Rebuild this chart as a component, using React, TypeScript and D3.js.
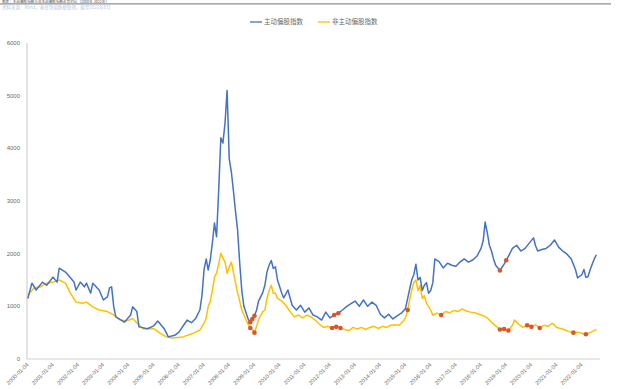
import React from "react";
import * as d3 from "d3";

// Index levels, sampled monthly ("YYYY-MM", level)
const ACTIVE_SERIES: [string, number][] = [
  ["2000-01", 1150], ["2000-03", 1440], ["2000-05", 1310], ["2000-08", 1460], ["2000-10", 1400],
  ["2001-01", 1555], ["2001-03", 1460], ["2001-04", 1725], ["2001-07", 1650], ["2001-09", 1555],
  ["2001-11", 1460], ["2001-12", 1310], ["2002-02", 1460], ["2002-04", 1370], ["2002-05", 1440],
  ["2002-07", 1250], ["2002-08", 1440], ["2002-11", 1310], ["2003-01", 1120], ["2003-03", 1180],
  ["2003-04", 1350], ["2003-05", 1370], ["2003-06", 990], ["2003-07", 800], ["2003-11", 700],
  ["2004-02", 835], ["2004-03", 990], ["2004-05", 900], ["2004-06", 610], ["2004-10", 575],
  ["2005-01", 630], ["2005-03", 720], ["2005-06", 575], ["2005-08", 420], ["2005-11", 450],
  ["2006-01", 510], ["2006-05", 740], ["2006-07", 690], ["2006-09", 770], ["2006-11", 930],
  ["2006-12", 1200], ["2007-01", 1700], ["2007-02", 1900], ["2007-03", 1690], ["2007-04", 1880],
  ["2007-05", 2200], ["2007-06", 2580], ["2007-07", 2320], ["2007-08", 3200], ["2007-09", 4200],
  ["2007-10", 4100], ["2007-11", 4480], ["2007-12", 5100], ["2008-01", 3800], ["2008-02", 3550],
  ["2008-03", 3200], ["2008-04", 2800], ["2008-05", 2450], ["2008-06", 1820], ["2008-07", 1300],
  ["2008-08", 1000], ["2008-09", 880], ["2008-10", 760], ["2008-11", 700], ["2008-12", 760],
  ["2009-01", 820], ["2009-02", 930], ["2009-03", 1100], ["2009-04", 1180], ["2009-05", 1260],
  ["2009-06", 1400], ["2009-07", 1650], ["2009-08", 1780], ["2009-09", 1870], ["2009-10", 1720],
  ["2009-11", 1750], ["2009-12", 1500], ["2010-02", 1250], ["2010-03", 1160], ["2010-05", 1310],
  ["2010-07", 1020], ["2010-09", 930], ["2010-11", 1020], ["2011-01", 890], ["2011-03", 970],
  ["2011-05", 835], ["2011-07", 800], ["2011-09", 740], ["2011-11", 890], ["2012-01", 780],
  ["2012-03", 835], ["2012-05", 870], ["2012-07", 930], ["2012-09", 1000], ["2012-11", 1050],
  ["2013-01", 1100], ["2013-03", 1000], ["2013-05", 1120], ["2013-07", 1000], ["2013-09", 1080],
  ["2013-11", 1020], ["2014-01", 850], ["2014-03", 780], ["2014-05", 850], ["2014-07", 760],
  ["2014-09", 820], ["2014-11", 870], ["2015-01", 960], ["2015-02", 1150], ["2015-03", 1320],
  ["2015-04", 1500], ["2015-05", 1600], ["2015-06", 1800], ["2015-07", 1500], ["2015-08", 1550],
  ["2015-09", 1300], ["2015-10", 1400], ["2015-11", 1450], ["2015-12", 1250], ["2016-01", 1300],
  ["2016-02", 1450], ["2016-03", 1900], ["2016-05", 1850], ["2016-07", 1730], ["2016-09", 1820],
  ["2016-11", 1780], ["2017-01", 1760], ["2017-03", 1840], ["2017-05", 1900], ["2017-07", 1840],
  ["2017-09", 1880], ["2017-11", 1950], ["2018-01", 2100], ["2018-02", 2250], ["2018-03", 2600],
  ["2018-04", 2400], ["2018-05", 2160], ["2018-06", 2050], ["2018-07", 1900], ["2018-08", 1780],
  ["2018-10", 1680], ["2018-12", 1800], ["2019-02", 1950], ["2019-04", 2100], ["2019-06", 2160],
  ["2019-08", 2050], ["2019-10", 2100], ["2019-12", 2200], ["2020-02", 2300], ["2020-03", 2150],
  ["2020-04", 2050], ["2020-06", 2080], ["2020-08", 2100], ["2020-10", 2160], ["2020-12", 2260],
  ["2021-02", 2120], ["2021-04", 2050], ["2021-06", 1990], ["2021-08", 1900], ["2021-10", 1700],
  ["2021-11", 1540], ["2022-01", 1600], ["2022-02", 1700], ["2022-03", 1550], ["2022-04", 1560],
  ["2022-05", 1690], ["2022-06", 1800], ["2022-07", 1900], ["2022-08", 1980],
];

const PASSIVE_SERIES: [string, number][] = [
  ["2000-01", 1215], ["2000-04", 1350], ["2000-07", 1370], ["2000-10", 1440], ["2001-01", 1460],
  ["2001-04", 1500], ["2001-07", 1440], ["2001-09", 1270], ["2001-12", 1080], ["2002-03", 1060],
  ["2002-05", 1080], ["2002-08", 990], ["2002-11", 930], ["2003-03", 900], ["2003-06", 835],
  ["2003-09", 740], ["2003-12", 720], ["2004-03", 770], ["2004-06", 645], ["2004-08", 575],
  ["2005-01", 575], ["2005-04", 490], ["2005-07", 420], ["2005-10", 400], ["2006-03", 420],
  ["2006-08", 490], ["2006-11", 550], ["2007-01", 680], ["2007-02", 780], ["2007-03", 990],
  ["2007-04", 1100], ["2007-05", 1300], ["2007-06", 1550], ["2007-07", 1630], ["2007-08", 1800],
  ["2007-09", 2010], ["2007-10", 1920], ["2007-11", 1840], ["2007-12", 1630], ["2008-01", 1750],
  ["2008-02", 1840], ["2008-03", 1650], ["2008-04", 1450], ["2008-05", 1250], ["2008-06", 1100],
  ["2008-07", 930], ["2008-08", 840], ["2008-09", 740], ["2008-10", 660], ["2008-11", 590],
  ["2008-12", 560], ["2009-01", 500], ["2009-02", 620], ["2009-03", 740], ["2009-04", 830],
  ["2009-05", 900], ["2009-06", 930], ["2009-07", 1150], ["2009-08", 1300], ["2009-09", 1400],
  ["2009-10", 1250], ["2009-11", 1250], ["2009-12", 1150], ["2010-02", 1100], ["2010-04", 1020],
  ["2010-06", 900], ["2010-08", 800], ["2010-10", 835], ["2010-12", 780], ["2011-02", 835],
  ["2011-04", 800], ["2011-06", 740], ["2011-08", 660], ["2011-10", 600], ["2011-12", 620],
  ["2012-02", 590], ["2012-04", 610], ["2012-06", 590], ["2012-08", 560], ["2012-10", 540],
  ["2012-12", 600], ["2013-02", 570], ["2013-04", 600], ["2013-06", 560], ["2013-08", 600],
  ["2013-10", 620], ["2013-12", 580], ["2014-02", 620], ["2014-04", 600], ["2014-06", 640],
  ["2014-08", 650], ["2014-10", 640], ["2014-12", 720], ["2015-01", 780], ["2015-02", 930],
  ["2015-03", 1120], ["2015-04", 1310], ["2015-05", 1450], ["2015-06", 1500], ["2015-07", 1300],
  ["2015-08", 1400], ["2015-09", 1150], ["2015-10", 1200], ["2015-11", 1060], ["2015-12", 1000],
  ["2016-01", 930], ["2016-02", 830], ["2016-04", 870], ["2016-06", 835], ["2016-08", 900],
  ["2016-10", 880], ["2016-12", 920], ["2017-02", 900], ["2017-04", 950], ["2017-06", 910],
  ["2017-08", 890], ["2017-10", 880], ["2017-12", 850], ["2018-02", 820], ["2018-04", 780],
  ["2018-06", 700], ["2018-08", 630], ["2018-10", 560], ["2018-12", 570], ["2019-02", 540],
  ["2019-04", 640], ["2019-05", 740], ["2019-07", 660], ["2019-09", 600], ["2019-11", 640],
  ["2020-01", 610], ["2020-03", 650], ["2020-05", 590], ["2020-07", 640], ["2020-09", 620],
  ["2020-11", 680], ["2021-01", 600], ["2021-03", 580], ["2021-05", 550], ["2021-07", 520],
  ["2021-09", 500], ["2021-11", 510], ["2022-01", 490], ["2022-03", 470], ["2022-05", 500],
  ["2022-07", 540], ["2022-08", 560],
];

// Highlighted observation dates on each line
const ACTIVE_MARKS = ["2008-11", "2008-12", "2009-01", "2012-03", "2012-05", "2018-10", "2019-01"];
const PASSIVE_MARKS = [
  "2008-11", "2009-01", "2012-02", "2012-04", "2012-06", "2015-02", "2016-06",
  "2018-10", "2018-12", "2019-02", "2019-11", "2020-01", "2020-05", "2021-09", "2022-03",
];

const Y_TICKS = [0, 1000, 2000, 3000, 4000, 5000, 6000];
const X_TICK_YEARS = d3.range(2000, 2023);
const LEGEND_LABELS = ["主动偏股指数", "非主动偏股指数"];
const TITLE_TEXT = "图表：主动偏股指数与非主动偏股指数走势对比（2000年-2022年）";
const SUBTITLE_TEXT = "资料来源：Wind，基金净值数据整理，截至2022年8月";

const W = 628;
const H = 389;
const BLUE = "#4472C4";
const GOLD = "#FFC000";
const MARK = "#D9562A";
const AXIS = "#D0D0D0";
const LABEL = "#6B6B6B";
const NUM_FONT = "'Liberation Sans', Arial, sans-serif";
const CJK_FONT = "'Noto Sans CJK SC', sans-serif";

const parseMonth = d3.timeParse("%Y-%m");

type Pt = [Date, number];

function toPoints(series: [string, number][]): Pt[] {
  return series.map(([d, v]) => [parseMonth(d) as Date, v]);
}

function valueAt(points: Pt[], date: Date): number {
  const i = d3.bisector((p: Pt) => p[0]).left(points, date);
  if (i <= 0) return points[0][1];
  if (i >= points.length) return points[points.length - 1][1];
  const [d0, v0] = points[i - 1];
  const [d1, v1] = points[i];
  const t = (date.getTime() - d0.getTime()) / (d1.getTime() - d0.getTime());
  return v0 + (v1 - v0) * t;
}

export default function App() {
  const x = d3
    .scaleTime()
    .domain([new Date(2000, 0, 4), new Date(2022, 0, 4)])
    .range([28, 582]);
  const y = d3.scaleLinear().domain([0, 6000]).range([359, 43]);

  const line = d3
    .line<Pt>()
    .x((d) => x(d[0]))
    .y((d) => y(d[1]));

  const active = toPoints(ACTIVE_SERIES);
  const passive = toPoints(PASSIVE_SERIES);

  const marks = (points: Pt[], dates: string[]) =>
    dates.map((s) => {
      const d = parseMonth(s) as Date;
      return { key: s, cx: x(d), cy: y(valueAt(points, d)) };
    });

  const fmt = d3.timeFormat("%Y-%m-%d");
  const xTicks = X_TICK_YEARS.map((yr) => new Date(yr, 0, 4));
  const [x0, x1] = [27, 600];

  return (
    <svg
      width={W}
      height={H}
      viewBox={`0 0 ${W} ${H}`}
      style={{ position: "absolute", left: 0, top: 0, background: "#fff" }}
    >
      <rect x={0} y={0} width={W} height={H} fill="#fff" />

      {/* heading row above the rule */}
      <text x={2} y={3} fontFamily={CJK_FONT} fontSize={3.6} fill="#555">
        {TITLE_TEXT}
      </text>
      <line x1={0} x2={611} y1={3.8} y2={3.8} stroke="#8a8f99" strokeWidth={1.2} />
      <text x={2} y={8.5} fontFamily={CJK_FONT} fontSize={4.5} fill="#9db3d6" opacity={0.7}>
        {SUBTITLE_TEXT}
      </text>

      {/* legend */}
      <g fontFamily={CJK_FONT} fontSize={6.5} fill={LABEL}>
        <line x1={250} x2={262} y1={22} y2={22} stroke={BLUE} strokeWidth={1.3} />
        <text x={264} y={24.3}>{LEGEND_LABELS[0]}</text>
        <line x1={318} x2={330} y1={22} y2={22} stroke={GOLD} strokeWidth={1.3} />
        <text x={332} y={24.3}>{LEGEND_LABELS[1]}</text>
      </g>

      {/* axes */}
      <line x1={x0} x2={x0} y1={y(6000)} y2={y(0)} stroke={AXIS} strokeWidth={1.2} />
      <line x1={x0} x2={x1} y1={y(0)} y2={y(0)} stroke={AXIS} strokeWidth={1.2} />

      <g fontFamily={NUM_FONT} fontSize={6} fill={LABEL} textAnchor="end">
        {Y_TICKS.map((t) => (
          <text key={t} x={20} y={y(t) + 2}>
            {t}
          </text>
        ))}
      </g>

      <g fontFamily={NUM_FONT} fontSize={5.6} fill={LABEL} textAnchor="end">
        {xTicks.map((d) => {
          const tx = x(d);
          return (
            <text key={d.getFullYear()} transform={`translate(${tx + 1},${365}) rotate(-45)`}>
              {fmt(d)}
            </text>
          );
        })}
      </g>

      {/* series */}
      <path d={line(passive) ?? ""} fill="none" stroke={GOLD} strokeWidth={1.5} strokeLinejoin="round" />
      <path d={line(active) ?? ""} fill="none" stroke={BLUE} strokeWidth={1.5} strokeLinejoin="round" />

      {marks(active, ACTIVE_MARKS).map((m) => (
        <circle key={"a" + m.key} cx={m.cx} cy={m.cy} r={2.3} fill={MARK} />
      ))}
      {marks(passive, PASSIVE_MARKS).map((m) => (
        <circle key={"p" + m.key} cx={m.cx} cy={m.cy} r={2.3} fill={MARK} />
      ))}
    </svg>
  );
}
